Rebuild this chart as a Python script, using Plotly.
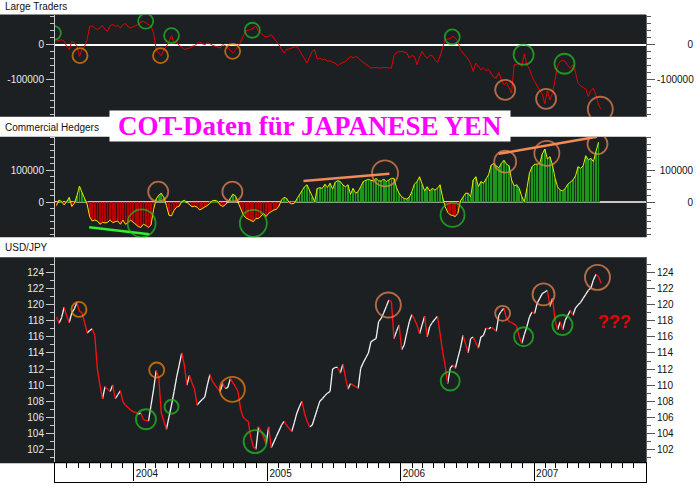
import numpy as np
import pandas as pd
import plotly.graph_objects as go

W, H = 700, 489
start_date = "2003-06-03"  # weekly COT dates

usdjpy = [
    118.5, 117.7, 118.4, 119.7, 118.6, 117.8, 119.0, 119.5, 120.3, 119.2,
    119.0, 117.8, 116.5, 116.8, 117.0, 116.2, 112.0, 110.0, 108.3, 109.8,
    109.5, 109.2, 110.0, 108.3, 108.8, 109.3, 107.9, 107.5, 107.2, 106.9,
    106.7, 106.6, 106.4, 106.5, 105.7, 105.6, 105.5, 107.5, 109.5, 111.8,
    111.0, 106.5, 105.5, 104.5, 106.0, 107.5, 109.2, 111.0, 112.5, 114.0,
    112.5, 110.0, 111.2, 110.3, 109.5, 107.5, 107.9, 108.2, 108.5, 110.0,
    111.3, 110.5, 110.0, 109.6, 109.2, 110.2, 109.6, 109.7, 110.8, 110.3,
    109.8, 109.2, 107.0, 106.0, 105.7, 105.5, 103.5, 102.3, 102.0, 104.8,
    104.3, 103.5, 102.7, 104.8, 102.2, 102.9, 103.6, 104.3, 105.0, 105.5,
    105.0, 104.6, 104.2, 105.3, 106.5, 107.3, 108.0, 106.5, 105.5, 104.8,
    105.0, 106.0, 107.0, 108.0, 108.3, 108.7, 109.0, 109.2, 112.0, 112.2,
    112.2, 111.5, 112.6, 111.0, 109.5, 110.2, 110.0, 109.8, 109.6, 112.1,
    112.8, 113.4, 114.0, 115.4, 115.6, 115.8, 117.9, 118.3, 119.0, 119.8,
    120.6, 120.4, 115.8, 116.7, 117.5, 114.4, 115.0, 116.5, 117.9, 118.8,
    118.2, 117.5, 116.4, 117.5, 118.6, 116.0, 117.3, 117.8, 118.2, 118.6,
    116.5, 114.2, 112.5, 110.2, 112.1, 112.5, 112.1, 113.4, 114.6, 116.2,
    115.1, 114.0, 115.8, 116.0, 115.3, 114.6, 116.0, 116.2, 117.1, 117.0,
    117.2, 117.0, 116.7, 118.7, 119.2, 119.6, 118.3, 117.9, 117.8, 117.6,
    117.3, 116.0, 115.2, 116.3, 117.3, 118.5, 119.1, 118.9, 120.2, 120.8,
    121.4, 121.6, 121.8, 119.8, 120.8, 118.1, 116.9, 117.9, 116.9, 118.1,
    118.7, 119.3, 118.7, 119.6, 120.0, 120.3, 120.8, 121.3, 121.8, 122.1,
    123.1, 123.8, 123.5, 122.7,
]

large_traders = [
    9500, 12400, 14300, 9500, -4800, -14300, 9500, 4800, -2900, -33300,
    -14300, -4800, 14300, 52400, 52400, 47600, 42800, 47600, 54300, 42800,
    38100, 54300, 57100, 52400, 54300, 47600, 57100, 60000, 50500, 47600,
    50500, 52400, 57100, 63800, 66600, 61900, 57100, 52400, 33300, -14300,
    -23800, -31400, -14300, -4800, 9500, 25700, 4800, 6700, -2900, -6700,
    -14300, -12400, -9500, -4800, -2900, 2900, 6700, 2900, 0, 4800,
    2900, -1900, -4800, -7600, -9500, 0, -2900, -9500, -16200, -23800,
    -14300, -4800, 6700, 23800, 38100, 40900, 42800, 47600, 52400, 38100,
    30500, 25700, 21900, 23800, 28600, 19000, 12400, 0, -12400, -23800,
    -14300, -12400, -9500, -6700, -4800, -16200, -28600, -40900, -52400, -35200,
    -19000, -14300, -40900, -38100, -42800, -40900, -47600, -45700, -50500, -52400,
    -60000, -54300, -50500, -47600, -40900, -33300, -38100, -33300, -38100, -45700,
    -50500, -55200, -61900, -66600, -65700, -64700, -66600, -65700, -64700, -64700,
    -66600, -66600, -31400, -21900, -20000, -19000, -21000, -23800, -38100, -31400,
    -33300, -57100, -35200, -19000, -31400, -38100, -31400, -31400, -42800, -50500,
    -33300, -9500, 14300, 16200, 16200, 23800, 19000, 9500, -14300, -23800,
    -31400, -40900, -54300, -76200, -52400, -61900, -71400, -66600, -73300, -71400,
    -80900, -92300, -95200, -79000, -100000, -114200, -107600, -120900, -138000, -57100,
    -57100, -52400, -61900, -25700, -57100, -69500, -90400, -104700, -119000, -130400,
    -140000, -168500, -130400, -157100, -138000, -100000, -60000, -47600, -44700, -47600,
    -60000, -66600, -57100, -79000, -109500, -117100, -120900, -126600, -147600, -130400,
    -123800, -142800, -171400, -183700,
]

commercial_hedgers = [
    -10000, 7000, 2000, -8000, 2000, 15000, -13000, -3000, 20000, 50000,
    30000, 10000, -6000, -45000, -58000, -55000, -58000, -68000, -62000, -64000,
    -62000, -55000, -63000, -60000, -58000, -68000, -55000, -68000, -63000, -55000,
    -62000, -70000, -75000, -78000, -68000, -72000, -78000, -70000, -22000, 10000,
    22000, 28000, 15000, -10000, -40000, -42000, -25000, -15000, -12000, 2000,
    6000, 0, -8000, -14000, -12000, -15000, -24000, -20000, -14000, -10000,
    -3000, 5000, 6000, 3000, -8000, -13000, -8000, 0, 12000, 25000,
    20000, 0, -18000, -38000, -48000, -52000, -56000, -60000, -50000, -50000,
    -43000, -34000, -44000, -34000, -29000, -24000, -22000, -12000, 7000, 15000,
    12000, -1000, -5000, -3000, 10000, 23000, 35000, 48000, 54000, 35000,
    17000, 2000, 43000, 45000, 43000, 56000, 46000, 59000, 41000, 62000,
    67000, 64000, 54000, 48000, 54000, 25000, 43000, 28000, 33000, 48000,
    64000, 68000, 71000, 68000, 66000, 74000, 66000, 66000, 72000, 64000,
    68000, 74000, 74000, 45000, 28000, 17000, 12000, 10000, 16000, 33000,
    56000, 64000, 79000, 54000, 35000, 48000, 35000, 43000, 38000, 43000,
    54000, 17000, -13000, -31000, -39000, -41000, -44000, -34000, 4000, 16000,
    28000, 28000, 17000, 69000, 79000, 48000, 64000, 59000, 72000, 85000,
    115000, 120000, 113000, 107000, 120000, 130000, 118000, 113000, 69000, 51000,
    54000, 43000, 17000, 2000, 43000, 90000, 110000, 118000, 118000, 120000,
    149000, 165000, 134000, 141000, 115000, 74000, 48000, 38000, 35000, 43000,
    56000, 62000, 69000, 82000, 110000, 105000, 113000, 144000, 131000, 136000,
    126000, 157000, 186000,
]

# hand-drawn trend lines (week offsets from start_date, values)
green_trend_weeks = [12.8, 36.3]
green_trend_values = [-77000, -99000]
orange_trend1_weeks = [96.6, 130.2]
orange_trend1_values = [66000, 88000]
orange_trend2_weeks = [172.9, 211.4]
orange_trend2_values = [150000, 203000]

# hand-drawn circles
GREEN, ORANGE, SALMON = "#22c422", "#ff8800", "#f38a55"
lt_circle_weeks = [-1.0, 9.2, 34.9, 40.7, 45.0, 68.9, 76.6, 154.8, 175.5, 182.7, 191.5, 198.7, 212.7]
lt_circle_values = [33000, -31400, 66600, -31400, 25700, -19000, 40900, 21900, -128500, -28600, -154000, -54300, -183700]
lt_circle_sizes = [14, 15, 15, 15, 15, 15, 15, 15, 20, 20, 20, 20, 25]
lt_circle_colors = [GREEN, ORANGE, GREEN, ORANGE, GREEN, ORANGE, GREEN, GREEN, SALMON, GREEN, SALMON, GREEN, SALMON]

ch_circle_weeks = [39.8, 33.3, 68.8, 77.0, 128.5, 154.9, 175.5, 191.8, 211.6]
ch_circle_values = [32900, -65100, 32900, -65100, 89700, -39100, 125800, 151700, 180400]
ch_circle_sizes = [20, 28, 20, 27, 26, 24, 22, 25, 20]
ch_circle_colors = [SALMON, GREEN, SALMON, GREEN, SALMON, GREEN, SALMON, SALMON, SALMON]

px_circle_weeks = [8.8, 39.2, 35.0, 45.0, 68.8, 77.7, 129.8, 154.0, 174.5, 182.7, 190.5, 197.9, 211.6]
px_circle_values = [119.43, 111.88, 105.74, 107.31, 109.47, 102.96, 119.98, 110.51, 118.94, 116.03, 121.30, 117.48, 123.42]
px_circle_sizes = [15, 15, 20, 14, 25, 23, 25, 19, 15, 19, 22, 20, 25]
px_circle_colors = [ORANGE, ORANGE, GREEN, GREEN, ORANGE, GREEN, SALMON, GREEN, SALMON, GREEN, SALMON, GREEN, SALMON]

lt_ticks = [-100000, 0]
lt_ticktext = ["-100000", "0"]
ch_ticks = [0, 100000]
ch_ticktext = ["0", "100000"]

# ---------------------------------------------------------------
t0 = pd.Timestamp(start_date)
def wk(weeks):
    return t0 + pd.to_timedelta(np.asarray(weeks, dtype=float) * 7, unit="D")

d_px = wk(range(len(usdjpy)))
d_lt = wk(range(len(large_traders)))
d_ch = wk(range(len(commercial_hedgers)))

FONT = "Liberation Sans"
BG = "#1d2023"

def ydom(top, bot):
    return [1 - bot / H, 1 - top / H]

xdom = [55 / W, 646 / W]
xr = ["2003-05-30", "2007-11-03"]
dom1, dom2, dom3, dom4 = ydom(14.5, 116.7), ydom(136.7, 237.3), ydom(257.3, 463.3), ydom(463.3, 482)
r1, r2, r3 = [-204900, 85700], [-108400, 203100], [100.26, 125.92]

fig = go.Figure()

# Panel 1: Large Traders
fig.add_trace(go.Scatter(x=d_lt, y=large_traders, mode="lines", line=dict(color="#e80000", width=1),
                         xaxis="x", yaxis="y", hoverinfo="skip"))
fig.add_trace(go.Scatter(x=wk(lt_circle_weeks), y=lt_circle_values, mode="markers",
                         marker=dict(symbol="circle-open", size=lt_circle_sizes, color=lt_circle_colors, line=dict(width=1.8)),
                         xaxis="x", yaxis="y5", hoverinfo="skip"))

# Panel 2: Commercial Hedgers
dark_cols = ["#0a3f0a" if v >= 0 else "#5a0000" for v in commercial_hedgers]
bright_cols = ["#1e961e" if v >= 0 else "#b80000" for v in commercial_hedgers]
fig.add_trace(go.Bar(x=d_ch, y=commercial_hedgers, width=7 * 86400000, marker=dict(color=dark_cols, line=dict(width=0)),
                     xaxis="x2", yaxis="y2", hoverinfo="skip"))
fig.add_trace(go.Bar(x=d_ch, y=commercial_hedgers, width=2.0 * 86400000, marker=dict(color=bright_cols, line=dict(width=0)),
                     xaxis="x2", yaxis="y2", hoverinfo="skip"))
fig.add_trace(go.Scatter(x=d_ch, y=commercial_hedgers, mode="lines", line=dict(color="#e8e800", width=1),
                         xaxis="x2", yaxis="y2", hoverinfo="skip"))
fig.add_trace(go.Scatter(x=wk(green_trend_weeks), y=green_trend_values, mode="lines", line=dict(color="#2ef02e", width=2.5),
                         xaxis="x2", yaxis="y2", hoverinfo="skip"))
for tw, tv in [(orange_trend1_weeks, orange_trend1_values), (orange_trend2_weeks, orange_trend2_values)]:
    fig.add_trace(go.Scatter(x=wk(tw), y=tv, mode="lines", line=dict(color="#f38a55", width=2.5),
                             xaxis="x2", yaxis="y2", hoverinfo="skip"))
fig.add_trace(go.Scatter(x=wk(ch_circle_weeks), y=ch_circle_values, mode="markers",
                         marker=dict(symbol="circle-open", size=ch_circle_sizes, color=ch_circle_colors, line=dict(width=1.8)),
                         xaxis="x2", yaxis="y6", hoverinfo="skip"))

# Panel 3: USD/JPY, white when rising, red when falling
up_x, up_y, dn_x, dn_y = [], [], [], []
for i in range(len(usdjpy) - 1):
    sx = [d_px[i], d_px[i + 1], None]
    sy = [usdjpy[i], usdjpy[i + 1], None]
    if usdjpy[i + 1] >= usdjpy[i]:
        up_x += sx; up_y += sy
    else:
        dn_x += sx; dn_y += sy
fig.add_trace(go.Scatter(x=up_x, y=up_y, mode="lines", line=dict(color="#f2f2f2", width=1.3),
                         xaxis="x3", yaxis="y3", hoverinfo="skip", connectgaps=False))
fig.add_trace(go.Scatter(x=dn_x, y=dn_y, mode="lines", line=dict(color="#ff1010", width=1.3),
                         xaxis="x3", yaxis="y3", hoverinfo="skip", connectgaps=False))
fig.add_trace(go.Scatter(x=wk(px_circle_weeks), y=px_circle_values, mode="markers",
                         marker=dict(symbol="circle-open", size=px_circle_sizes, color=px_circle_colors, line=dict(width=1.9)),
                         xaxis="x3", yaxis="y7", hoverinfo="skip"))

# the date strip below the price panel needs traces so its axes are drawn (kept invisible: out of range)
fig.add_trace(go.Scatter(x=d_px, y=usdjpy, mode="lines", opacity=0, xaxis="x4", yaxis="y4", hoverinfo="skip"))
fig.add_trace(go.Scatter(x=d_px, y=usdjpy, mode="lines", opacity=0, xaxis="x5", yaxis="y4", hoverinfo="skip"))

base_x = dict(domain=xdom, range=xr, type="date", showgrid=False, zeroline=False,
              showticklabels=False, ticks="", showline=False, fixedrange=True)

def left_y(dom, rng, minor_dtick, zc, **kw):
    d = dict(domain=dom, range=rng, showgrid=False, zeroline=zc is not None, zerolinecolor=zc or "#fff",
             zerolinewidth=1.5, ticks="outside", ticklen=8, tickwidth=1, tickcolor="#c8c8c8",
             tickfont=dict(family=FONT, size=10, color="#e8e8e8"), showline=True, linecolor="#c8c8c8",
             linewidth=1, fixedrange=True,
             minor=dict(tickmode="linear", tick0=0, dtick=minor_dtick, ticks="outside", ticklen=4,
                        tickcolor="#c8c8c8", showgrid=False))
    d.update(kw)
    return d

def right_y(over, anchor, rng, minor_dtick, **kw):
    d = dict(overlaying=over, anchor=anchor, side="right", range=rng, showgrid=False, zeroline=False,
             ticks="outside", ticklen=8, tickwidth=1, tickcolor="#555",
             tickfont=dict(family=FONT, size=10, color="#111"), showline=True, linecolor="#666",
             linewidth=1, fixedrange=True,
             minor=dict(tickmode="linear", tick0=0, dtick=minor_dtick, ticks="outside", ticklen=4,
                        tickcolor="#555", showgrid=False))
    d.update(kw)
    return d

def rpad(labels):
    w = {"-": 3.33}
    widths = [sum(w.get(c, 5.56) for c in s) for s in labels]
    m = max(widths)
    return ["\u00a0" * int(round((m - wd) / 2.78)) + s for s, wd in zip(labels, widths)]

lt_right_text = rpad(lt_ticktext)
ch_right_text = rpad(ch_ticktext + ["-100000"])[:2]

fig.update_layout(
    width=W, height=H, margin=dict(l=0, r=0, t=0, b=0),
    paper_bgcolor="white", plot_bgcolor="rgba(0,0,0,0)", showlegend=False,
    barmode="overlay", font=dict(family=FONT, size=10, color="#111"),
    xaxis=dict(base_x, anchor="y"),
    xaxis2=dict(base_x, anchor="y2"),
    xaxis3=dict(base_x, anchor="y3"),
    xaxis4=dict(domain=xdom, range=xr, type="date", anchor="y4", side="top", showgrid=False, zeroline=False,
                showline=True, mirror=True, linecolor="#000", linewidth=1, fixedrange=True,
                tickmode="linear", tick0="2004-01-01", dtick="M12", ticks="inside", ticklen=18,
                tickcolor="#000", tickwidth=1, showticklabels=False,
                minor=dict(tickmode="linear", tick0="2003-06-01", dtick="M1", ticks="inside", ticklen=5,
                           tickcolor="#000", tickwidth=1, showgrid=False)),
    xaxis5=dict(overlaying="x4", anchor="y4", side="bottom", range=xr, type="date", showgrid=False,
                zeroline=False, showline=False, ticks="", tickmode="linear", tick0="2004-01-01", dtick="M12",
                tickformat="%Y", ticklabelposition="inside", ticklabelshift=13,
                tickfont=dict(family=FONT, size=10, color="#111"), fixedrange=True),
    yaxis=left_y(dom1, r1, 20000, "#ffffff", anchor="x", tickmode="array", tickvals=lt_ticks, ticktext=lt_ticktext),
    yaxis2=left_y(dom2, r2, 20000, "#c8c8c8", anchor="x2", tickmode="array", tickvals=ch_ticks, ticktext=ch_ticktext),
    yaxis3=left_y(dom3, r3, 1, None, anchor="x3", tickmode="linear", tick0=0, dtick=2),
    yaxis4=dict(domain=dom4, range=[0, 1], anchor="x4", showgrid=False, zeroline=False, showticklabels=False,
                ticks="", showline=True, mirror=True, linecolor="#000", linewidth=1, fixedrange=True),
    yaxis5=right_y("y", "x", r1, 20000, tickmode="array", tickvals=lt_ticks, ticktext=lt_right_text),
    yaxis6=right_y("y2", "x2", r2, 20000, tickmode="array", tickvals=ch_ticks, ticktext=ch_right_text),
    yaxis7=right_y("y3", "x3", r3, 1, tickmode="linear", tick0=0, dtick=2),
)

# dark panel backgrounds (including the left label area)
for dm in (dom1, dom2, dom3):
    fig.add_shape(type="rect", xref="paper", yref="paper", x0=0, x1=646 / W, y0=dm[0], y1=dm[1],
                  fillcolor=BG, line=dict(width=0), layer="below")

# panel labels
for txt, ypx in [("Large Traders", 6), ("Commercial Hedgers", 127.5), ("USD/JPY", 247)]:
    fig.add_annotation(text=txt, xref="paper", yref="paper", x=3 / W, y=1 - ypx / H, xanchor="left",
                       yanchor="middle", showarrow=False, font=dict(family=FONT, size=10, color="#111"))

fig.add_annotation(text="COT-Daten für JAPANESE YEN", xref="paper", yref="paper", x=310 / W, y=1 - 126 / H,
                   xanchor="center", yanchor="middle", showarrow=False, bgcolor="white", width=400, height=30,
                   borderpad=0, font=dict(family="Liberation Serif", size=27, color="#ff00ff", weight="bold"))
fig.add_annotation(text="???", xref="paper", yref="paper", x=614 / W, y=1 - 322 / H, xanchor="center",
                   yanchor="middle", showarrow=False,
                   font=dict(family=FONT, size=18, color="#e80000", weight="bold"))

fig.write_html("out.html", config={"displayModeBar": False})
